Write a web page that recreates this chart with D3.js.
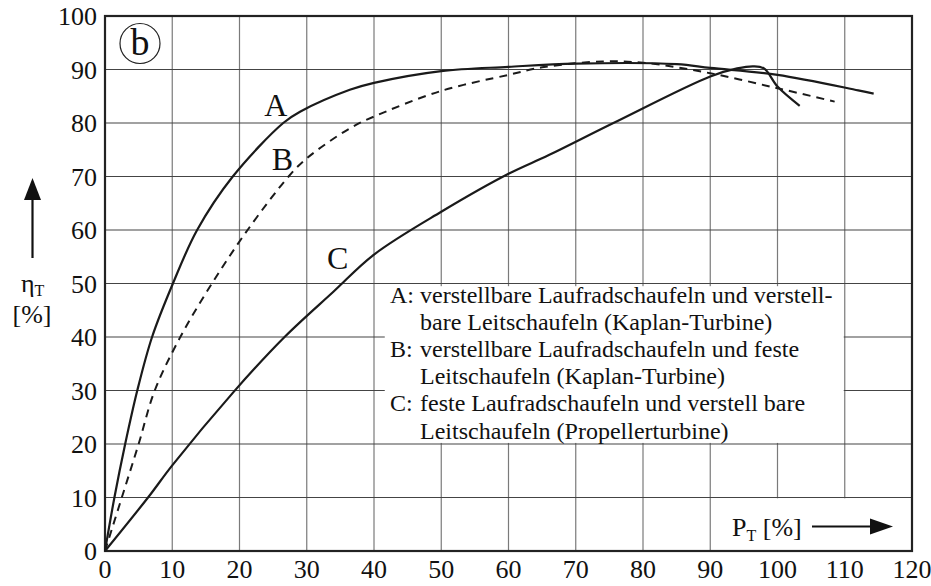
<html>
<head>
    <script src="https://d3js.org/d3.v7.min.js"></script>
    <style>
        body { margin: 0; background: #fff; }
    </style>
</head>
<body>
<div id="chart"></div>
<script>
// data (P_T in %, eta_T in %)
var aX = [0, 1.4, 3, 4.8, 7, 10.1, 13.7, 19, 26.5, 29, 36.4, 40, 50, 60, 70, 85, 90, 100, 112, 114.3];
var aY = [0, 10, 20, 30, 40, 50, 60, 70, 80, 82.1, 86.2, 87.5, 89.7, 90.5, 91.1, 91.0, 90.3, 89.0, 86.1, 85.5];

var bX = [0, 2.5, 5, 7.4, 11.2, 15.9, 21.2, 27.3, 30, 36.4, 40, 50, 60, 65, 74, 80.5, 90, 100, 108.5];
var bY = [0, 10, 20, 30, 40, 50, 60, 70, 73.4, 79, 81.2, 86, 89, 90.4, 91.5, 91.2, 89.3, 86.5, 84];

var cX = [0, 6.4, 10, 19.1, 26.7, 34, 40, 50, 60, 66, 75.6, 90, 94, 96.4, 98, 100, 103.3];
var cY = [0, 10, 16, 29.7, 40, 48.5, 55.4, 63.4, 70.5, 74, 80, 88.7, 90.2, 90.6, 90.2, 86.8, 83.2];

var xTicks = [0, 10, 20, 30, 40, 50, 60, 70, 80, 90, 100, 110, 120];
var yTicks = [0, 10, 20, 30, 40, 50, 60, 70, 80, 90, 100];

var legendLines = [
    ["A: ", "verstellbare Laufradschaufeln und verstell-"],
    ["", "bare Leitschaufeln (Kaplan-Turbine)"],
    ["B: ", "verstellbare Laufradschaufeln und feste"],
    ["", "Leitschaufeln (Kaplan-Turbine)"],
    ["C: ", "feste Laufradschaufeln und verstell bare"],
    ["", "Leitschaufeln (Propellerturbine)"]
];

var W = 931, H = 586;
var margin = { top: 16, right: 19, bottom: 35, left: 105 };
var width = W - margin.left - margin.right,
    height = H - margin.top - margin.bottom;
var serif = "Liberation Serif";

var svg = d3.select("#chart").append("svg")
    .attr("width", W)
    .attr("height", H);

var g = svg.append("g")
    .attr("transform", "translate(" + margin.left + "," + margin.top + ")");

var x = d3.scaleLinear().domain([0, 120]).range([0, width]);
var y = d3.scaleLinear().domain([0, 100]).range([height, 0]);

// small helper so every label gets the serif face
function label(parent, size) {
    return parent.append("text")
        .style("font-family", serif)
        .style("font-size", size + "px")
        .style("fill", "#111");
}

// grid
g.selectAll(".vgrid").data(xTicks).enter().append("line")
    .attr("x1", function(d) { return x(d); })
    .attr("x2", function(d) { return x(d); })
    .attr("y1", 0).attr("y2", height)
    .attr("stroke", "#7a7a7a").attr("stroke-width", 1.2);
g.selectAll(".hgrid").data(yTicks).enter().append("line")
    .attr("y1", function(d) { return y(d); })
    .attr("y2", function(d) { return y(d); })
    .attr("x1", 0).attr("x2", width)
    .attr("stroke", "#444").attr("stroke-width", 1.2);

// white box behind legend text
g.append("rect")
    .attr("x", x(41.6)).attr("y", y(49.5))
    .attr("width", x(109.85) - x(41.6))
    .attr("height", y(20.2) - y(49.5))
    .attr("fill", "#fff");

// white box behind x label
g.append("rect")
    .attr("x", x(90.25)).attr("y", y(9.85))
    .attr("width", x(120) - x(90.25))
    .attr("height", y(0) - y(9.85))
    .attr("fill", "#fff");

// frame
g.append("rect")
    .attr("width", width).attr("height", height)
    .attr("fill", "none").attr("stroke", "#222").attr("stroke-width", 2.2);

// tick labels
xTicks.forEach(function(d) {
    label(svg, 26)
        .attr("x", margin.left + x(d))
        .attr("y", 578)
        .attr("text-anchor", "middle")
        .text(d);
});
yTicks.forEach(function(d) {
    label(svg, 26)
        .attr("x", 97)
        .attr("y", margin.top + y(d) + 9)
        .attr("text-anchor", "end")
        .text(d);
});

// curves
var line = d3.line()
    .x(function(d) { return x(d[0]); })
    .y(function(d) { return y(d[1]); })
    .curve(d3.curveCatmullRom.alpha(0.5));

function pairs(xs, ys) { return xs.map(function(v, i) { return [v, ys[i]]; }); }

g.append("path").attr("d", line(pairs(aX, aY)))
    .attr("fill", "none").attr("stroke", "#1a1a1a").attr("stroke-width", 2.2);
g.append("path").attr("d", line(pairs(bX, bY)))
    .attr("fill", "none").attr("stroke", "#1a1a1a").attr("stroke-width", 2)
    .attr("stroke-dasharray", "8,6");
g.append("path").attr("d", line(pairs(cX, cY)))
    .attr("fill", "none").attr("stroke", "#1a1a1a").attr("stroke-width", 2.2);

// curve letters
var curveLabels = [["A", 25.4, 81.3], ["B", 26.4, 71.3], ["C", 34.6, 52.8]];
curveLabels.forEach(function(d) {
    label(g, 32)
        .attr("x", x(d[1]))
        .attr("y", y(d[2]))
        .attr("text-anchor", "middle")
        .text(d[0]);
});

// legend text
legendLines.forEach(function(l, i) {
    var t = label(svg, 24)
        .attr("x", l[0] ? 390 : 420)
        .attr("y", 303 + i * 27.1);
    if (l[0]) {
        t.append("tspan").text(l[0]);
        t.append("tspan").attr("x", 420).text(l[1]);
    } else {
        t.text(l[1]);
    }
});

// circled b
svg.append("circle").attr("cx", 140).attr("cy", 43.5).attr("r", 20)
    .attr("fill", "none").attr("stroke", "#222").attr("stroke-width", 1.2);
label(svg, 38).attr("x", 140).attr("y", 55).attr("text-anchor", "middle").text("b");

// y axis label with arrow
svg.append("line").attr("x1", 32.5).attr("x2", 32.5).attr("y1", 258).attr("y2", 195)
    .attr("stroke", "#111").attr("stroke-width", 2.2);
svg.append("path").attr("d", "M32.5,178 L41,200 L24,200 Z").attr("fill", "#111");
var eta = label(svg, 26).attr("x", 21).attr("y", 292);
eta.append("tspan").text("η");
eta.append("tspan").attr("dy", 4).style("font-size", "16px").text("T");
label(svg, 26).attr("x", 32).attr("y", 323).attr("text-anchor", "middle").text("[%]");

// x axis label with arrow
var pt = label(svg, 26).attr("x", 732).attr("y", 536);
pt.append("tspan").text("P");
pt.append("tspan").attr("dy", 5).style("font-size", "16px").text("T");
pt.append("tspan").attr("dy", -5).text(" [%]");
svg.append("line").attr("x1", 812).attr("x2", 875).attr("y1", 526.5).attr("y2", 526.5)
    .attr("stroke", "#111").attr("stroke-width", 2.2);
svg.append("path").attr("d", "M893,526.5 L870,518.5 L870,534.5 Z").attr("fill", "#111");
</script>
</body>
</html>
